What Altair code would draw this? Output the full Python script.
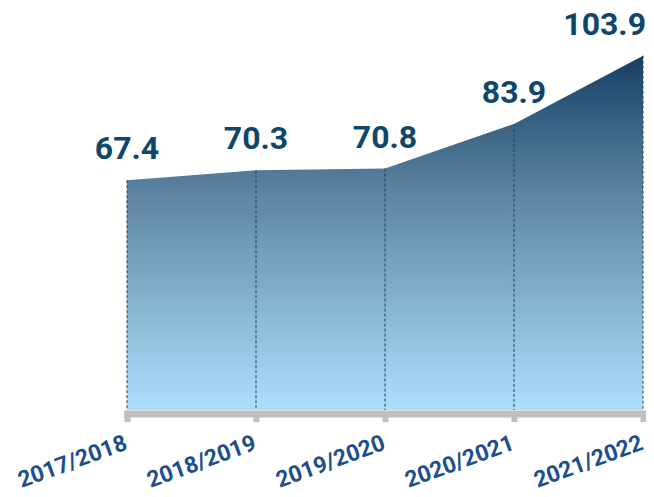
import altair as alt
import pandas as pd

years = ["2017/2018", "2018/2019", "2019/2020", "2020/2021", "2021/2022"]
values = [67.4, 70.3, 70.8, 83.9, 103.9]

df = pd.DataFrame({"year": years, "value": values})
df["label"] = [f"{v:.1f}" for v in values]

x = alt.X("year:N", sort=years,
          scale=alt.Scale(type="point", padding=0),
          axis=alt.Axis(title=None, labelAngle=-20, labelAlign="right", labelBaseline="top",
                        labelFont="Roboto", labelFontSize=23, labelFontWeight="bold",
                        labelColor="#1d4f8c", labelPadding=10, labelOffset=-5,
                        labelLimit=300, labelOverlap=False,
                        domainColor="#c0c0c0", domainWidth=7, domainCap="square",
                        tickColor="#c0c0c0", tickWidth=6, tickSize=8, offset=3.5,
                        grid=False))
y = alt.Y("value:Q", scale=alt.Scale(domain=[0, 117.3], nice=False, zero=True), axis=None)

base = alt.Chart(df)

area = base.mark_area(
    color=alt.Gradient(gradient="linear",
                       stops=[alt.GradientStop(color="#163f63", offset=0),
                              alt.GradientStop(color="#5f86a3", offset=0.4),
                              alt.GradientStop(color="#ade0fd", offset=1)],
                       x1=0, x2=0, y1=0, y2=1)
).encode(x=x, y=y)

rules = base.mark_rule(color="#1b4466", strokeWidth=1, strokeDash=[3, 2]).encode(
    x=alt.X("year:N", sort=years), y="value:Q", y2=alt.datum(0))

label_style = dict(font="Roboto", fontSize=32, fontWeight="bold", color="#11466b",
                   baseline="bottom", dy=-14)
labels = base.transform_filter(alt.datum.year != "2021/2022").mark_text(
    align="center", **label_style).encode(x=alt.X("year:N", sort=years), y="value:Q", text="label:N")
last_label = base.transform_filter(alt.datum.year == "2021/2022").mark_text(
    align="right", dx=3, **label_style).encode(x=alt.X("year:N", sort=years), y="value:Q", text="label:N")

chart = alt.layer(area, rules, labels, last_label).properties(
    width=516, height=400,
    autosize=alt.AutoSizeParams(type="none"),
    padding={"left": 119, "top": 2, "right": 3, "bottom": 79},
).configure_view(stroke=None)

chart.save("out.html", embed_options={"renderer": "svg", "actions": False})
